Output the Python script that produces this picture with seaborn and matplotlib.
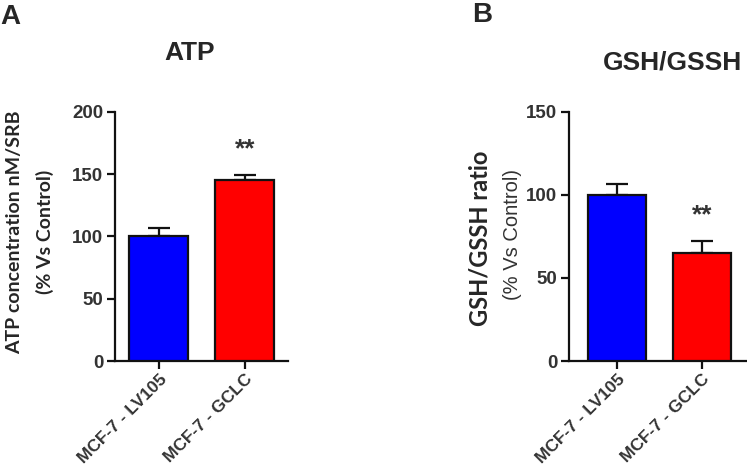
import matplotlib
matplotlib.use("Agg")
import matplotlib.pyplot as plt
import seaborn as sns
import pandas as pd

categories = ["MCF-7 - LV105", "MCF-7 - GCLC"]
atp_values = [100, 145]
atp_errors = [7, 4.5]
gsh_values = [100, 65]
gsh_errors = [6.5, 7]
bar_colors = ["#0000FF", "#FF0000"]
atp_ticks = [0, 50, 100, 150, 200]
gsh_ticks = [0, 50, 100, 150]

sns.set_theme(style="ticks")
plt.rcParams['font.family'] = ['Liberation Sans', 'DejaVu Sans']

fig = plt.figure(figsize=(7.47, 4.72), dpi=100)
axA = fig.add_axes([115/747, 1-361/472, (288-115)/747, (361-112)/472])
axB = fig.add_axes([569/747, 1-361/472, (747-569)/747, (361-112)/472])

def panel(ax, vals, errs, ticks, ymax, xlim, star_y, title, tx, ty):
    df = pd.DataFrame({"cat": categories, "val": vals})
    sns.barplot(data=df, x="cat", y="val", hue="cat", palette=bar_colors,
                width=0.686, edgecolor="#111111", linewidth=1.6, legend=False, ax=ax,
                saturation=1, zorder=3)
    ax.errorbar(range(len(vals)), vals, yerr=[[0]*len(vals), errs], fmt="none",
                ecolor="#111111", elinewidth=1.6, capsize=8, capthick=1.6, zorder=2)
    ax.set_ylim(0, ymax)
    ax.set_xlim(*xlim)
    ax.set_yticks(ticks)
    ax.set_xlabel("")
    ax.set_ylabel("")
    for s in ["top", "right"]:
        ax.spines[s].set_visible(False)
    for s in ["left", "bottom"]:
        ax.spines[s].set_linewidth(1.6)
        ax.spines[s].set_color("#111111")
    ax.tick_params(axis="both", length=5.5, width=1.6, color="#111111",
                   labelsize=13.5, labelcolor="#333333", pad=3)
    ax.tick_params(axis="x", pad=2)
    for lab in ax.get_yticklabels():
        lab.set_fontweight("bold")
    ax.set_xticks(range(len(categories)))
    ax.set_xticklabels(categories, rotation=45, ha="right", rotation_mode="anchor",
                       fontweight="bold", fontsize=12.5, color="#333333")
    ax.text(1, star_y, "**", ha="center", va="center", fontsize=19,
            fontweight="bold", color="#333333")
    fig.text(tx, ty, title, ha="center", va="center", fontsize=19, fontweight="bold")

panel(axA, atp_values, atp_errors, atp_ticks, 200, (-0.51, 1.5), 170, "ATP",
      190/747, 1-53/472)
panel(axB, gsh_values, gsh_errors, gsh_ticks, 150, (-0.565, 1.53), 88, "GSH/GSSH",
      673/747, 1-63/472)

fig.text(0/747, 1-17/472, "A", fontsize=20, fontweight="bold", ha="left", va="center")
fig.text(472/747, 1-15/472, "B", fontsize=20, fontweight="bold", ha="left", va="center")

fig.text(15/747, 1-232/472, "ATP concentration nM/SRB", rotation=90, ha="center",
         va="center", fontsize=14, fontweight="bold", family=["Lato", "DejaVu Sans"])
fig.text(45/747, 1-232/472, "(% Vs Control)", rotation=90, ha="center",
         va="center", fontsize=14, fontweight="bold", family=["Lato", "DejaVu Sans"])
fig.text(480/747, 1-238/472, "GSH/GSSH ratio", rotation=90, ha="center",
         va="center", fontsize=17, fontweight="bold", family=["Lato", "DejaVu Sans"])
fig.text(513/747, 1-235/472, "(% Vs Control)", rotation=90, ha="center",
         va="center", fontsize=14.5, color="#333333")

fig.savefig("out.png", dpi=100)
